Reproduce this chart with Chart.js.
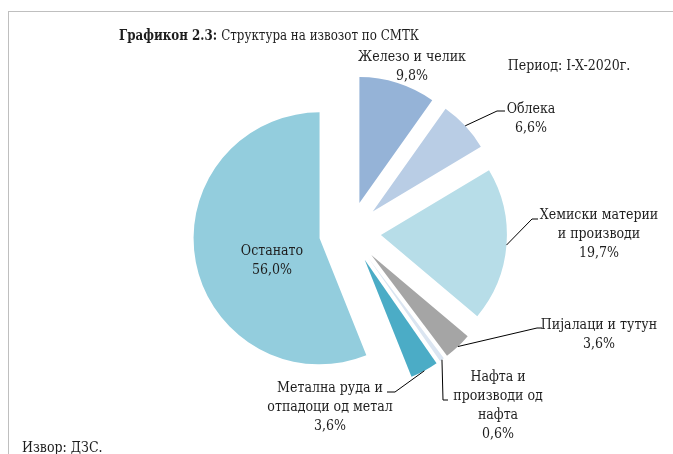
<!DOCTYPE html>
<html>
<head>
<meta charset="utf-8">
<script src="https://cdn.jsdelivr.net/npm/chart.js@4.4.0/dist/chart.umd.min.js"></script>
<style>
    html, body { margin: 0; padding: 0; background: #fff; }
    #wrap { position: relative; width: 673px; height: 454px; overflow: hidden; }
    #frame { position: absolute; left: 8px; top: 11px; width: 700px; height: 500px; border: 1px solid #bfbfbf; }
    canvas { position: absolute; left: 0; top: 0; }
</style>
</head>
<body>
<div id="wrap">
    <div id="frame"></div>
    <canvas id="pieChart" width="673" height="454"></canvas>
</div>
<script>
// ===== DATA =====
const categories = [
    'Железо и челик',
    'Облека',
    'Хемиски материи и производи',
    'Пијалаци и тутун',
    'Нафта и производи од нафта',
    'Метална руда и отпадоци од метал',
    'Останато'
];
const shares = [9.8, 6.6, 19.7, 3.6, 0.6, 3.6, 56.0];
const labelLines = [
    ['Железо и челик'],
    ['Облека'],
    ['Хемиски материи', 'и производи'],
    ['Пијалаци и тутун'],
    ['Нафта и', 'производи од', 'нафта'],
    ['Метална руда и', 'отпадоци од метал'],
    ['Останато']
];
const sliceColors = ['#95b3d7', '#b9cde5', '#b7dde8', '#a5a5a5', '#dbe5f1', '#4bacc6', '#93cddd'];

// label anchors (text centre x, first baseline y) and leader elbows
const labelPos = [
    { x: 412, y: 61 },
    { x: 531, y: 113, elbow: [497, 111], end: [505, 111] },
    { x: 599, y: 219, elbow: [532, 219], end: [538, 219] },
    { x: 599, y: 329, elbow: [537, 328], end: [542, 328] },
    { x: 498, y: 381, elbow: [443, 400], end: [448, 400] },
    { x: 330, y: 392, elbow: [395, 392], end: [387, 392] },
    { x: 272, y: 255 }
];

const FAMILY = '"DejaVu Serif Condensed", "DejaVu Serif", serif';
const FONT = '14px ' + FAMILY;
const TEXT = '#1e1e1e';
const LINE_H = 19;

const fmt = v => v.toFixed(1).replace('.', ',') + '%';

// ===== EXPLODE SLICES =====
const explode = {
    id: 'explode',
    afterDatasetsUpdate(chart, args, opts) {
        chart.getDatasetMeta(0).data.forEach(arc => {
            const mid = (arc.startAngle + arc.endAngle) / 2;
            arc.x += Math.cos(mid) * opts.distance;
            arc.y += Math.sin(mid) * opts.distance;
        });
    }
};

// ===== LABELS, TITLE, NOTES =====
const annotate = {
    id: 'annotate',
    afterDraw(chart) {
        const ctx = chart.ctx;
        ctx.save();
        ctx.fillStyle = TEXT;
        ctx.strokeStyle = '#000';
        ctx.lineWidth = 1;
        ctx.textBaseline = 'alphabetic';

        // title (narrow face, squeezed a little)
        const bold = 'Графикон 2.3: ';
        const rest = 'Структура на извозот по СМТК';
        const squeeze = 0.88;
        ctx.font = 'bold 15px ' + FAMILY;
        const wb = ctx.measureText(bold).width;
        ctx.font = '15px ' + FAMILY;
        const wr = ctx.measureText(rest).width;
        ctx.save();
        ctx.translate(269 - (wb + wr) * squeeze / 2, 40);
        ctx.scale(squeeze, 1);
        ctx.textAlign = 'left';
        ctx.font = 'bold 15px ' + FAMILY;
        ctx.fillText(bold, 0, 0);
        ctx.font = '15px ' + FAMILY;
        ctx.fillText(rest, wb, 0);
        ctx.restore();

        ctx.font = FONT;
        ctx.textAlign = 'center';
        ctx.fillText('Период: I-X-2020г.', 569, 70);
        ctx.textAlign = 'left';
        ctx.fillText('Извор: ДЗС.', 22, 452);

        const arcs = chart.getDatasetMeta(0).data;
        ctx.textAlign = 'center';
        arcs.forEach((arc, i) => {
            const p = labelPos[i];
            const lines = labelLines[i].concat([fmt(shares[i])]);
            lines.forEach((t, k) => ctx.fillText(t, p.x, p.y + k * LINE_H));
            if (p.elbow) {
                const mid = (arc.startAngle + arc.endAngle) / 2;
                const sx = arc.x + Math.cos(mid) * arc.outerRadius;
                const sy = arc.y + Math.sin(mid) * arc.outerRadius;
                ctx.beginPath();
                ctx.moveTo(sx, sy);
                ctx.lineTo(p.elbow[0], p.elbow[1]);
                ctx.lineTo(p.end[0], p.end[1]);
                ctx.stroke();
            }
        });
        ctx.restore();
    }
};

new Chart(document.getElementById('pieChart'), {
    type: 'pie',
    data: {
        labels: categories,
        datasets: [{
            data: shares,
            backgroundColor: sliceColors,
            borderWidth: 0,
            radius: 126
        }]
    },
    options: {
        responsive: false,
        animation: false,
        layout: { padding: { left: 27, top: 11, right: 0, bottom: 0 } },
        plugins: {
            legend: { display: false },
            tooltip: { enabled: false },
            explode: { distance: 31 }
        }
    },
    plugins: [explode, annotate]
});
</script>
</body>
</html>
